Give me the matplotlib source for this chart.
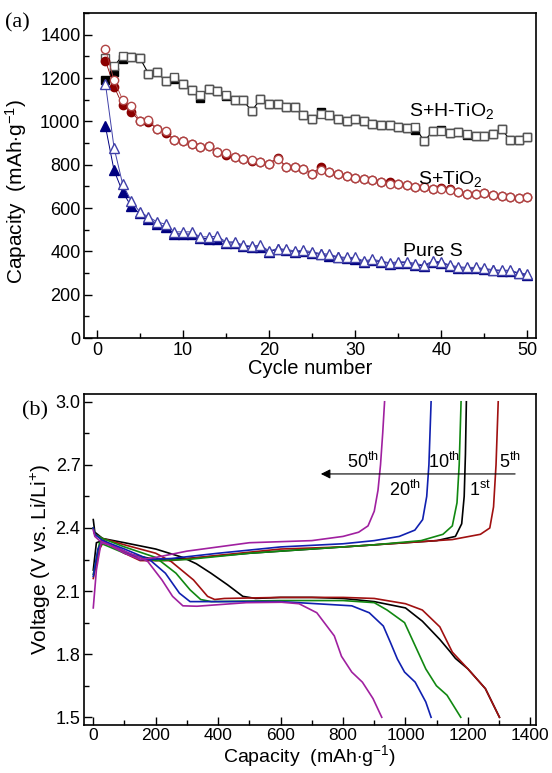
import numpy as np
import matplotlib
matplotlib.use("Agg")
from matplotlib import pyplot as plt
from matplotlib.ticker import MultipleLocator

plt.rcParams["font.family"] = ["Liberation Sans", "DejaVu Sans"]
plt.rcParams["mathtext.fontset"] = "custom"
plt.rcParams["mathtext.rm"] = "Liberation Sans"
plt.rcParams["mathtext.it"] = "Liberation Sans"

# ---- (a) cycling data ----
cycles = np.arange(1, 51)

htio2_charge = [1293, 1255, 1304, 1297, 1293, 1220, 1227, 1187, 1207, 1174,
                1143, 1120, 1151, 1140, 1123, 1097, 1097, 1047, 1105, 1078,
                1078, 1066, 1066, 1028, 1009, 1035, 1028, 1012, 1000, 1009,
                1000, 989, 985, 982, 974, 969, 974, 908, 954, 954,
                946, 950, 940, 932, 932, 940, 966, 912, 916, 928]
htio2_discharge = [1189, 1230, 1286, 1297, 1293, 1220, 1227, 1187, 1194, 1174,
                   1143, 1110, 1151, 1140, 1115, 1097, 1097, 1047, 1105, 1078,
                   1078, 1066, 1066, 1028, 1009, 1043, 1028, 1012, 1000, 1012,
                   1000, 989, 985, 982, 974, 969, 958, 908, 954, 958,
                   946, 950, 936, 932, 932, 944, 966, 912, 916, 928]

tio2_charge = [1335, 1189, 1100, 1069, 1001, 1005, 966, 954, 916, 909,
               894, 882, 885, 859, 854, 836, 828, 823, 813, 805,
               828, 789, 789, 782, 759, 774, 766, 756, 747, 740,
               736, 728, 720, 713, 713, 705, 697, 697, 690, 690,
               682, 674, 667, 664, 670, 662, 656, 651, 648, 651]
tio2_discharge = [1281, 1161, 1074, 1043, 1001, 996, 966, 945, 916, 909,
                  894, 882, 885, 859, 845, 836, 828, 816, 813, 805,
                  833, 789, 789, 782, 759, 790, 766, 756, 747, 740,
                  736, 728, 720, 720, 713, 705, 697, 697, 690, 694,
                  686, 674, 667, 664, 670, 662, 656, 651, 648, 651]

pure_charge = [1174, 879, 710, 633, 582, 559, 536, 525, 490, 490,
               490, 467, 467, 470, 444, 444, 429, 424, 429, 402,
               413, 409, 402, 405, 398, 390, 387, 375, 372, 372,
               356, 363, 356, 347, 352, 352, 344, 336, 355, 352,
               336, 329, 326, 326, 321, 316, 313, 313, 301, 295]
pure_discharge = [977, 774, 674, 608, 575, 550, 527, 511, 482, 480,
                  480, 460, 459, 459, 438, 440, 425, 420, 421, 398,
                  410, 405, 398, 400, 393, 386, 380, 372, 368, 365,
                  352, 358, 352, 344, 348, 348, 338, 333, 350, 348,
                  332, 325, 322, 322, 318, 312, 310, 310, 298, 292]

# ---- (b) voltage profiles (capacity mAh/g, voltage V) ----
dis_1st_cap = [0, 5, 30, 100, 200, 287, 330, 377, 430, 479, 520, 600, 700, 800, 900,
               1000, 1054, 1110, 1144, 1160, 1200, 1256, 1301]
dis_1st_v = [2.44, 2.38, 2.35, 2.33, 2.30, 2.26, 2.23, 2.185, 2.13, 2.075, 2.065, 2.07, 2.07,
             2.065, 2.05, 2.02, 1.957, 1.87, 1.81, 1.78, 1.73, 1.636, 1.50]
dis_5th_cap = [0, 5, 30, 100, 200, 250, 321, 366, 389, 420, 600, 800, 900, 1000, 1054,
               1110, 1150, 1200, 1256, 1301]
dis_5th_v = [2.40, 2.37, 2.35, 2.32, 2.28, 2.24, 2.153, 2.075, 2.06, 2.065, 2.07, 2.07, 2.065,
             2.04, 2.01, 1.93, 1.81, 1.73, 1.636, 1.50]
dis_10th_cap = [0, 5, 30, 100, 200, 265, 310, 344, 378, 600, 800, 900, 941, 997, 1031,
                1065, 1099, 1133, 1177]
dis_10th_v = [2.40, 2.37, 2.35, 2.31, 2.26, 2.185, 2.106, 2.06, 2.05, 2.055, 2.055, 2.045, 2.01,
              1.95, 1.84, 1.73, 1.65, 1.605, 1.50]
dis_20th_cap = [0, 5, 30, 100, 180, 231, 276, 310, 400, 600, 828, 884, 929, 952, 974,
                997, 1031, 1065, 1082]
dis_20th_v = [2.40, 2.37, 2.34, 2.30, 2.25, 2.185, 2.09, 2.05, 2.05, 2.05, 2.03, 1.997, 1.934,
              1.855, 1.777, 1.715, 1.667, 1.573, 1.50]
dis_50th_cap = [0, 5, 20, 100, 150, 175, 220, 254, 287, 332, 490, 603, 659, 716, 772,
                795, 828, 862, 896, 924]
dis_50th_v = [2.39, 2.36, 2.34, 2.29, 2.26, 2.24, 2.153, 2.075, 2.03, 2.028, 2.045, 2.047,
              2.04, 1.997, 1.887, 1.79, 1.715, 1.667, 1.589, 1.50]

chg_1st_cap = [0, 10, 30, 100, 200, 300, 500, 700, 900, 1100, 1160, 1180, 1188, 1192, 1195]
chg_1st_v = [2.20, 2.33, 2.34, 2.28, 2.25, 2.255, 2.28, 2.30, 2.32, 2.34, 2.36, 2.42, 2.55,
             2.75, 3.00]
chg_5th_cap = [0, 20, 35, 100, 150, 250, 400, 600, 800, 1000, 1150, 1240, 1270, 1282, 1290, 1297]
chg_5th_v = [2.16, 2.30, 2.34, 2.28, 2.245, 2.245, 2.27, 2.30, 2.31, 2.33, 2.345, 2.37, 2.40,
             2.50, 2.70, 3.00]
chg_10th_cap = [0, 20, 100, 200, 300, 500, 700, 900, 1050, 1120, 1150, 1165, 1172, 1178]
chg_10th_v = [2.18, 2.33, 2.28, 2.245, 2.25, 2.28, 2.30, 2.32, 2.34, 2.37, 2.41, 2.52, 2.70, 3.00]
chg_20th_cap = [0, 15, 30, 100, 150, 250, 400, 600, 800, 900, 980, 1030, 1055, 1068, 1075, 1082]
chg_20th_v = [2.17, 2.30, 2.34, 2.29, 2.25, 2.255, 2.28, 2.31, 2.325, 2.34, 2.36, 2.39, 2.44,
              2.55, 2.70, 3.00]
chg_50th_cap = [0, 10, 25, 50, 100, 150, 200, 300, 400, 500, 600, 700, 800, 850, 880, 900,
                912, 920, 927, 933]
chg_50th_v = [2.02, 2.20, 2.33, 2.32, 2.28, 2.25, 2.26, 2.29, 2.31, 2.33, 2.335, 2.34, 2.36,
              2.38, 2.41, 2.48, 2.58, 2.70, 2.85, 3.00]

fig = plt.figure(figsize=(5.52, 7.73), dpi=100)
ax1 = fig.add_axes([0.152, 0.5627, 0.819, 0.4204])
ax2 = fig.add_axes([0.152, 0.062, 0.819, 0.428])

ms = 6
# filled (discharge) first, open (charge) markers on top with white fill
ax1.plot(cycles, htio2_discharge, 's', color="black", ms=ms, mec="black")
ax1.plot(cycles, htio2_charge, 's-', color="black", lw=0.8, ms=ms, mfc="white", mec="#555555", mew=1.0)
ax1.plot(cycles, tio2_discharge, 'o-', color="#8B0000", lw=0.6, ms=ms, mec="#8B0000")
ax1.plot(cycles, tio2_charge, 'o-', color="#B04444", lw=0.6, ms=ms, mfc="white", mec="#B04444", mew=1.0)
ax1.plot(cycles, pure_discharge, '^-', color="#000080", lw=0.7, ms=ms + 0.8, mec="#000080")
ax1.plot(cycles, pure_charge, '^-', color="#4040A8", lw=0.7, ms=ms + 0.8, mfc="white", mec="#4040A8", mew=1.0)

ax1.text(36.3, 1050, "S+H-TiO$_2$", fontsize=14, va="center")
ax1.text(37.3, 735, "S+TiO$_2$", fontsize=14, va="center")
ax1.text(35.5, 400, "Pure S", fontsize=14, va="center")

ax1.set_xlim(-1.5, 51)
ax1.set_ylim(0, 1500)
ax1.xaxis.set_major_locator(MultipleLocator(10))
ax1.xaxis.set_minor_locator(MultipleLocator(5))
ax1.yaxis.set_major_locator(MultipleLocator(200))
ax1.yaxis.set_minor_locator(MultipleLocator(100))
ax1.set_xlabel("Cycle number", fontsize=14.5, labelpad=0)
ax1.set_ylabel("Capacity  (mAh$\\cdot$g$^{-1}$)", fontsize=15)
ax1.yaxis.set_label_coords(-0.122, 0.45)

curves = [
    (dis_1st_cap, dis_1st_v, chg_1st_cap, chg_1st_v, "black"),
    (dis_5th_cap, dis_5th_v, chg_5th_cap, chg_5th_v, "#A01010"),
    (dis_10th_cap, dis_10th_v, chg_10th_cap, chg_10th_v, "#118811"),
    (dis_20th_cap, dis_20th_v, chg_20th_cap, chg_20th_v, "#1020B0"),
    (dis_50th_cap, dis_50th_v, chg_50th_cap, chg_50th_v, "#A020A0"),
]
for dc, dv, cc, cv, col in curves:
    ax2.plot(dc, dv, color=col, lw=1.2)
    ax2.plot(cc, cv, color=col, lw=1.2)

ax2.annotate("", xy=(720, 2.657), xytext=(1360, 2.657),
             arrowprops=dict(arrowstyle="-|>", color="black", lw=0.8, mutation_scale=14))
ax2.text(812, 2.715, "50$^{th}$", fontsize=13, va="center")
ax2.text(1072, 2.715, "10$^{th}$", fontsize=13, va="center")
ax2.text(1298, 2.715, "5$^{th}$", fontsize=13, va="center")
ax2.text(946, 2.58, "20$^{th}$", fontsize=13, va="center")
ax2.text(1202, 2.58, "1$^{st}$", fontsize=13, va="center")

ax2.set_xlim(-30, 1418)
ax2.set_ylim(1.463, 3.036)
ax2.xaxis.set_major_locator(MultipleLocator(200))
ax2.xaxis.set_minor_locator(MultipleLocator(100))
ax2.yaxis.set_major_locator(MultipleLocator(0.3))
ax2.yaxis.set_minor_locator(MultipleLocator(0.15))
ax2.set_xlabel("Capacity  (mAh$\\cdot$g$^{-1}$)", fontsize=14, labelpad=0)
ax2.set_ylabel("Voltage (V vs. Li/Li$^{+}$)", fontsize=15, labelpad=2)

for ax in (ax1, ax2):
    ax.tick_params(which="both", direction="in", top=False, right=False, labelsize=13, pad=2.5)
    ax.tick_params(which="major", length=6, width=1.0)
    ax.tick_params(which="minor", length=3.5, width=1.0)
    for sp in ax.spines.values():
        sp.set_linewidth(1.2)
ax2.tick_params(axis="x", labelsize=12.5, pad=2)

fig.text(0.009, 0.971, "(a)", family="Liberation Serif", fontsize=16, va="center")
fig.text(0.04, 0.469, "(b)", family="Liberation Serif", fontsize=16, va="center")

plt.savefig("out.png", dpi=100)
